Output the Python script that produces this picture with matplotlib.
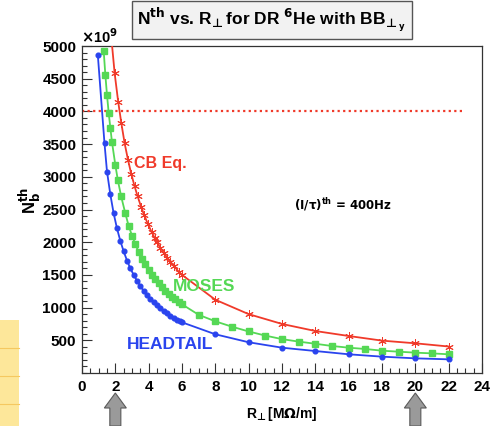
import matplotlib
matplotlib.use("Agg")
import matplotlib.pyplot as plt
from matplotlib.patches import Rectangle, Polygon
from matplotlib.ticker import MultipleLocator, FixedLocator

plt.rcParams['font.family'] = ['Liberation Sans', 'DejaVu Sans']
plt.rcParams['font.weight'] = 'bold'
plt.rcParams['mathtext.fontset'] = 'dejavusans'
plt.rcParams['mathtext.default'] = 'bf'

# ---- data ----
r_cb = [1.7, 1.96, 2.17, 2.36, 2.56, 2.76, 2.95, 3.15, 3.34, 3.54, 3.73, 3.95,
        4.17, 4.35, 4.5, 4.7, 4.9, 5.1, 5.3, 5.5, 5.8, 6.0,
        8, 10, 12, 14, 16, 18, 20, 22]
n_cb = [5290, 4580, 4150, 3820, 3510, 3260, 3050, 2860, 2700, 2545, 2415, 2280,
        2160, 2070, 2000, 1915, 1840, 1765, 1700, 1640, 1550, 1500,
        1120, 900, 750, 642, 566, 495, 454, 405]

r_moses = [1.3, 1.4, 1.5, 1.6, 1.7, 1.8, 2.0, 2.15, 2.35, 2.6, 2.8, 3.0, 3.2,
           3.4, 3.6, 3.8, 4.0, 4.2, 4.4, 4.6, 4.8, 5.0, 5.2, 5.4, 5.6, 5.8, 6.0,
           7, 8, 9, 10, 11, 12, 13, 14, 15, 16, 17, 18, 19, 20, 21, 22]
n_moses = [4930, 4560, 4250, 3980, 3750, 3530, 3180, 2950, 2700, 2440, 2250,
           2100, 1970, 1850, 1750, 1660, 1575, 1500, 1430, 1370, 1310, 1260,
           1210, 1165, 1125, 1085, 1050,
           890, 790, 708, 635, 572, 518, 480, 447, 413, 387, 367, 341, 326,
           311, 300, 286]

r_head = [0.95, 1.35, 1.5, 1.7, 1.9, 2.1, 2.3, 2.5, 2.7, 2.9, 3.1, 3.3, 3.5,
          3.7, 3.9, 4.1, 4.3, 4.5, 4.7, 4.9, 5.1, 5.3, 5.5, 5.7, 5.9, 6.0,
          8, 10, 12, 14, 16, 18, 20, 22]
n_head = [4860, 3510, 3080, 2730, 2440, 2210, 2020, 1860, 1720, 1600, 1500,
          1410, 1330, 1255, 1190, 1135, 1080, 1035, 990, 950, 910, 878, 845,
          815, 790, 775, 592, 470, 387, 336, 286, 250, 224, 209]

threshold_y = 4000
threshold_x = [0, 22.8]
arrow_x = [2, 20]

c_red = '#f03a2a'
c_green = '#55d855'
c_blue = '#2a44ee'

fig = plt.figure(figsize=(4.94, 4.26), dpi=100)
fig.patch.set_facecolor('white')

# yellow decoration at bottom left
fig.patches.append(Rectangle((0, 0), 19/494, 106/426, transform=fig.transFigure,
                             facecolor='#fde79a', edgecolor='none', zorder=0))
for yy in [22, 50, 78]:
    fig.lines.append(plt.Line2D([0, 19/494], [yy/426, yy/426], transform=fig.transFigure,
                                color='#f5c860', lw=0.8, zorder=1))

ax = fig.add_axes([82/494, 53/426, 400/494, 327/426])
ax.set_xlim(0, 24)
ax.set_ylim(0, 5000)

ax.plot(r_cb, n_cb, color=c_red, lw=1.3, marker=(6, 2, 0), ms=6, mew=0.7, zorder=3)
ax.plot(r_moses, n_moses, color=c_green, lw=1.3, marker='s', ms=3.8, mec=c_green, zorder=3)
ax.plot(r_head, n_head, color=c_blue, lw=1.3, marker='o', ms=3.4, mec=c_blue, zorder=4)
ax.plot(threshold_x, [threshold_y, threshold_y], color=c_red, lw=1.6, ls=(0, (1, 1.5)), zorder=2)

ax.xaxis.set_major_locator(MultipleLocator(2))
ax.xaxis.set_minor_locator(MultipleLocator(0.5))
ax.yaxis.set_major_locator(FixedLocator(list(range(500, 5001, 500))))
ax.yaxis.set_minor_locator(MultipleLocator(100))
ax.tick_params(which='both', direction='in', top=False, right=False, width=0.8, color='#333333')
ax.tick_params(which='major', length=7)
ax.tick_params(which='minor', length=3.5)
ax.tick_params(axis='x', pad=5)
ax.tick_params(axis='y', pad=4)
for lab in ax.get_xticklabels() + ax.get_yticklabels():
    lab.set_fontsize(11)
    lab.set_fontweight('bold')
for s in ax.spines.values():
    s.set_linewidth(0.9)
    s.set_color('#333333')

# labels in the plot
ax.text(3.1, 3210, 'CB Eq.', color=c_red, fontsize=11.5, fontweight='bold', va='center', ha='left')
ax.text(5.45, 1320, 'MOSES', color=c_green, fontsize=12.5, fontweight='bold', va='center', ha='left')
ax.text(2.7, 430, 'HEADTAIL', color=c_blue, fontsize=12.5, fontweight='bold', va='center', ha='left')
ax.text(12.7, 2570, r'(I/$\tau$)$^{\mathbf{th}}$ = 400Hz', color='black', fontsize=8.5,
        family=['DejaVu Sans'], fontweight='bold', va='center', ha='left')

# multiplier
fig.text(81/494, 1 - 37/426, r'$\times$10$^{\mathbf{9}}$', fontsize=10.5, ha='left', va='center')

# axis titles
fig.text(282/494, 1 - 414/426, r'R$_{\!\mathrm{\bot}}$[M$\Omega$/m]', fontsize=10, ha='center', va='center')
fig.text(30/494, 1 - 200/426, r'N$_{\mathbf{b}}^{\mathbf{th}}$', fontsize=12, rotation=90,
         ha='center', va='center')

# title box
fig.text(272/494, 1 - 20/426,
         r'N$^{\mathbf{th}}$ vs. R$_{\!\mathrm{\bot}}$for DR $^{\mathbf{6}}$He with BB$_{\!\mathrm{\bot}_{\mathbf{y}}}$',
         fontsize=12.5, ha='center', va='center',
         bbox=dict(boxstyle='square,pad=0.3', facecolor='#f2f2f2', edgecolor='#555555', lw=1.0))

# arrows under axis at x=2 and x=20
for xa in arrow_x:
    px = ax.transData.transform((xa, 0))[0]
    tip = 393
    headw = 11
    shaftw = 5.5
    headl = 15
    pts_px = [(px, tip), (px + headw, tip + headl), (px + shaftw, tip + headl),
              (px + shaftw, 426), (px - shaftw, 426), (px - shaftw, tip + headl),
              (px - headw, tip + headl)]
    pts = [(x / 494, 1 - y / 426) for x, y in pts_px]
    fig.patches.append(Polygon(pts, closed=True, transform=fig.transFigure,
                               facecolor='#9a9a9a', edgecolor='#5a5a5a', lw=0.8, zorder=5))

fig.savefig('out.png', dpi=100)
